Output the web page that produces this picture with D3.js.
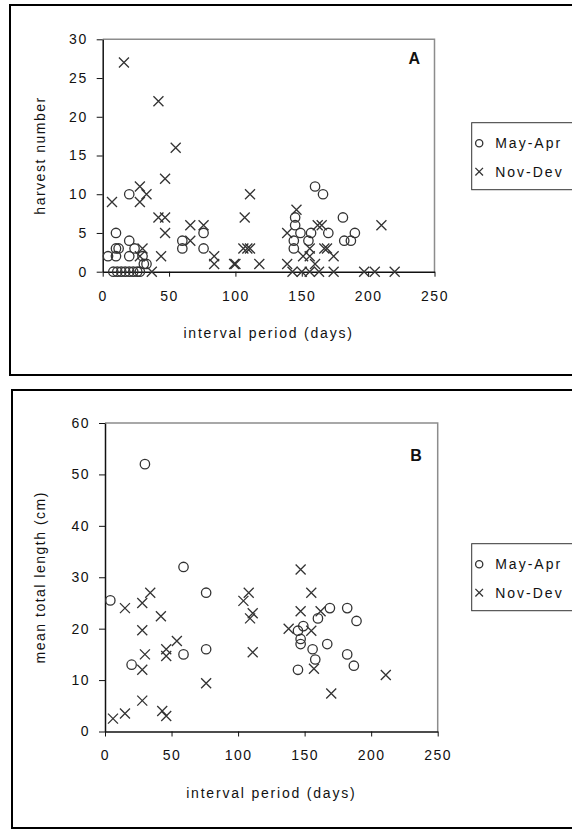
<!DOCTYPE html>
<html>
<head>
<meta charset="utf-8">
<script src="https://cdn.jsdelivr.net/npm/d3@7"></script>
<style>
  body { margin: 0; background: #fff; }
  text { font-family: "Liberation Sans", Arial, sans-serif; fill: #111; }
</style>
</head>
<body>
<svg id="chart" width="572" height="831"></svg>
<script>
// panel A: harvest number vs interval period
var harvestMayApr = [
  [4,2],[10,2],[10,3],[12,3],[10,5],[20,10],[20,4],[20,2],[24,3],[30,2],[31,1],[33,1],
  [8,0],[11,0],[14,0],[17,0],[20,0],[23,0],[26,0],[28,0],
  [60,4],[60,3],[76,5],[76,3],
  [145,7],[145,6],[144,4],[144,3],[149,5],[155,4],[157,5],[160,11],[166,10],[170,5],
  [181,7],[182,4],[187,4],[190,5]
];
var harvestNovDev = [
  [7,9],[16,27],[28,11],[28,9],[33,10],[30,3],[28,2],[37,0],[42,22],[55,16],[47,12],
  [42,7],[47,7],[47,5],[44,2],[66,6],[66,4],[76,6],[84,2],[84,1],[99,1],[100,1],
  [107,7],[111,10],[106,3],[109,3],[111,3],[118,1],[139,5],[139,1],[146,8],[165,6],
  [162,6],[210,6],[169,3],[167,3],[174,2],[151,2],[156,2],[156,3],[160,1],
  [143,0],[150,0],[156,0],[163,0],[174,0],[197,0],[205,0],[220,0]
];

// panel B: mean total length vs interval period
var lengthMayApr = [
  [4,25.5],[20,13],[30,52],[59,32],[59,15],[76,27],[76,16],[145,19.6],[145,12],
  [147,18],[147,17],[149,20.5],[156,16],[158,14],[160,22],[167,17],[169,24],
  [182,24],[182,15],[187,12.8],[189,21.5]
];
var lengthNovDev = [
  [6,2.5],[15,3.5],[15,24],[28,6],[28,12],[28,19.7],[28,25],[30,15],[34,27],[42,22.4],
  [43,4],[46,3],[46,16],[46,14.7],[54,17.6],[76,9.4],[104,25.4],[108,27],[109,22],
  [111,23],[111,15.4],[138,20],[147,31.5],[147,23.4],[155,27],[155,19.6],[157,12.2],
  [162,23.4],[170,7.4],[211,11]
];

var seriesNames = ['May-Apr', 'Nov-Dev'];
var xTicks = [0, 50, 100, 150, 200, 250];
var yTicksA = [0, 5, 10, 15, 20, 25, 30];
var yTicksB = [0, 10, 20, 30, 40, 50, 60];

var svg = d3.select('#chart');
var ink = '#333';

var panels = [
  {
    frame: {x: 10, y: 5, h: 370},
    plot: {x0: 102.7, x1: 434.5, y0: 271.7, y1: 39.3},
    yMax: 30, yTicks: yTicksA, yTitle: 'harvest number', tag: 'A',
    tagPos: [420, 64], legendY: 122.7,
    circles: harvestMayApr, crosses: harvestNovDev
  },
  {
    frame: {x: 12, y: 390, h: 438},
    plot: {x0: 105, x1: 437.7, y0: 731.5, y1: 423},
    yMax: 60, yTicks: yTicksB, yTitle: 'mean total length (cm)', tag: 'B',
    tagPos: [421.7, 461], legendY: 543.7,
    circles: lengthMayApr, crosses: lengthNovDev
  }
];

function drawCircle(g, x, y, r) {
  g.append('circle').attr('cx', x).attr('cy', y).attr('r', r)
    .attr('fill', 'none').attr('stroke', ink).attr('stroke-width', 1.3);
}
function drawCross(g, x, y, s) {
  g.append('path')
    .attr('d', 'M' + (x - s) + ',' + (y - s) + 'L' + (x + s) + ',' + (y + s) +
               'M' + (x - s) + ',' + (y + s) + 'L' + (x + s) + ',' + (y - s))
    .attr('fill', 'none').attr('stroke', ink).attr('stroke-width', 1.3);
}

panels.forEach(function(p) {
  var g = svg.append('g');

  // outer frame
  g.append('rect')
    .attr('x', p.frame.x).attr('y', p.frame.y)
    .attr('width', 600).attr('height', p.frame.h)
    .attr('fill', 'none').attr('stroke', '#000').attr('stroke-width', 2);

  var x = d3.scaleLinear().domain([0, 250]).range([p.plot.x0, p.plot.x1]);
  var y = d3.scaleLinear().domain([0, p.yMax]).range([p.plot.y0, p.plot.y1]);

  // gray top and right border of plot area
  g.append('path')
    .attr('d', 'M' + x(0) + ',' + y(p.yMax) + 'H' + x(250) + 'V' + y(0))
    .attr('fill', 'none').attr('stroke', '#8c8c8c').attr('stroke-width', 1.5);

  var xAxis = g.append('g')
    .attr('transform', 'translate(0,' + y(0) + ')')
    .call(d3.axisBottom(x).tickValues(xTicks).tickSize(5).tickSizeOuter(0).tickPadding(14));
  var yAxis = g.append('g')
    .attr('transform', 'translate(' + x(0) + ',0)')
    .call(d3.axisLeft(y).tickValues(p.yTicks).tickSize(6).tickSizeOuter(0).tickPadding(9));

  [xAxis, yAxis].forEach(function(a) {
    a.select('.domain').attr('stroke', '#111').attr('stroke-width', 1.5);
    a.selectAll('.tick line').attr('stroke', '#111').attr('stroke-width', 1);
    a.selectAll('.tick text')
      .attr('font-size', 14).attr('fill', '#111')
      .style('font-family', '"Liberation Sans", Arial, sans-serif')
      .style('letter-spacing', '1.5px');
  });

  // axis titles
  g.append('text')
    .attr('x', (p.plot.x0 + p.plot.x1) / 2).attr('y', y(0) + 66)
    .attr('text-anchor', 'middle').attr('font-size', 14)
    .style('letter-spacing', '1.8px')
    .text('interval period (days)');
  g.append('text')
    .attr('transform', 'translate(45,' + ((p.plot.y0 + p.plot.y1) / 2) + ') rotate(-90)')
    .attr('text-anchor', 'middle').attr('font-size', 14)
    .style('letter-spacing', '1.5px')
    .text(p.yTitle);

  // panel tag
  g.append('text')
    .attr('x', p.tagPos[0]).attr('y', p.tagPos[1])
    .attr('text-anchor', 'end').attr('font-size', 16).attr('font-weight', 'bold')
    .text(p.tag);

  // points
  var marks = g.append('g');
  p.circles.forEach(function(d) { drawCircle(marks, x(d[0]), y(d[1]), 4.7); });
  p.crosses.forEach(function(d) { drawCross(marks, x(d[0]), y(d[1]), 5); });

  // legend
  var lg = g.append('g').attr('transform', 'translate(471.7,' + p.legendY + ')');
  lg.append('rect').attr('width', 120).attr('height', 67)
    .attr('fill', '#fff').attr('stroke', '#333').attr('stroke-width', 1);
  drawCircle(lg, 7.5, 20.6, 3.6);
  drawCross(lg, 7.5, 49, 3.8);
  seriesNames.forEach(function(name, i) {
    lg.append('text')
      .attr('x', 23.5).attr('y', 25.5 + i * 28.5)
      .attr('font-size', 14).style('letter-spacing', '2px')
      .text(name);
  });
});
</script>
</body>
</html>
